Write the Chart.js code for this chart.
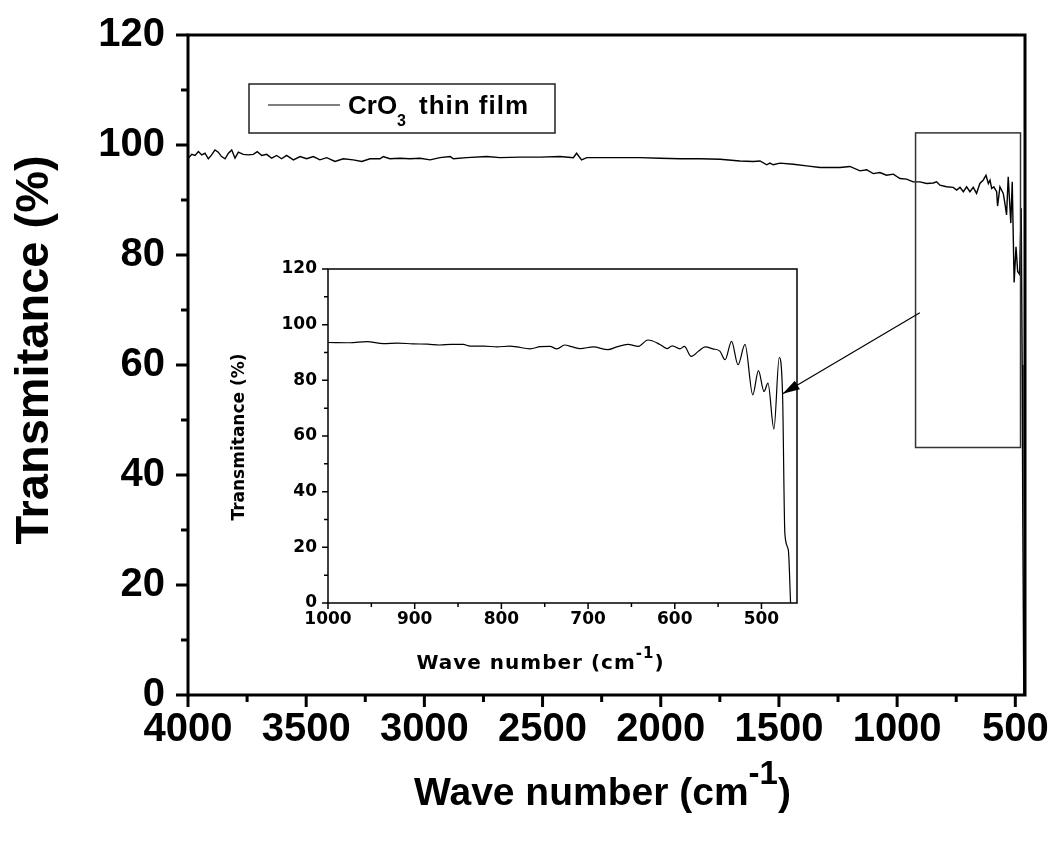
<!DOCTYPE html>
<html lang="en">
<head>
<meta charset="UTF-8">
<title>CrO3 thin film - FTIR transmittance</title>
<script src="https://cdn.jsdelivr.net/npm/chart.js"></script>
<style>
    html, body { margin: 0; padding: 0; background: #fff; }
    .wrap { position: relative; width: 1052px; height: 841px; }
    .wrap canvas { position: absolute; left: 0; top: 0; }
</style>
</head>
<body>
<div class="wrap">
    <canvas id="mainChart" width="1052" height="841"></canvas>
    <canvas id="insetChart" width="1052" height="841"></canvas>
</div>
<script>
// main spectrum, 4000 - 460 cm-1
const mainWave = [
    3999, 3984, 3970, 3956, 3942, 3928, 3914, 3900, 3886, 3872,
    3858, 3843, 3829, 3815, 3801, 3787, 3766, 3745, 3724, 3707,
    3688, 3667, 3646, 3625, 3604, 3583, 3554, 3526, 3498, 3470,
    3442, 3413, 3378, 3343, 3301, 3265, 3230, 3188, 3174, 3146,
    3103, 3061, 3018, 2976, 2934, 2891, 2877, 2821, 2736, 2680,
    2595, 2510, 2426, 2370, 2356, 2335, 2313, 2257, 2172, 2088,
    2003, 1919, 1834, 1749, 1665, 1608, 1580, 1552, 1538, 1524,
    1496, 1439, 1383, 1326, 1242, 1200, 1157, 1129, 1101, 1073,
    1045, 1016, 988, 960, 932, 904, 875, 847, 833, 819,
    791, 763, 748, 734, 720, 706, 692, 678, 664, 650,
    636, 624, 614, 607, 600, 591, 579, 575, 565, 551,
    544, 537, 530, 519, 513, 505, 497, 490, 482, 475,
    471, 468, 464
];
const mainT = [
    97.6, 98.3, 98.1, 98.8, 98.2, 98.5, 97.5, 98.2, 99.1, 98.7,
    97.9, 97.5, 98.5, 99.1, 97.6, 98.7, 98.3, 98.2, 98.3, 98.8,
    98.1, 98.3, 97.6, 98.1, 97.5, 98.1, 97.3, 97.9, 97.5, 97.9,
    97.3, 97.7, 97.0, 97.5, 97.3, 97.0, 97.5, 97.5, 97.9, 97.5,
    97.6, 97.5, 97.6, 97.3, 97.7, 97.9, 97.5, 97.7, 97.9, 97.7,
    97.8, 97.8, 97.9, 97.7, 98.5, 97.3, 97.7, 97.7, 97.7, 97.7,
    97.6, 97.5, 97.5, 97.4, 97.1, 97.0, 97.1, 96.4, 96.7, 96.4,
    96.7, 96.5, 96.2, 95.9, 95.9, 96.1, 95.3, 95.5, 94.8, 95.0,
    94.5, 94.7, 93.9, 93.8, 93.3, 93.3, 93.0, 93.1, 93.3, 92.7,
    92.4, 92.3, 91.8, 92.3, 91.5, 92.4, 91.5, 92.3, 91.2, 93.0,
    93.6, 94.5, 93.0, 93.6, 92.1, 92.4, 91.5, 88.9, 92.4, 91.2,
    89.4, 87.3, 94.2, 85.8, 93.3, 75.0, 81.5, 77.0, 76.5, 88.5,
    60.0, 30.0, 0.0
];

// inset: zoom on 1000 - 460 cm-1
const insetWave = [
    1000, 975, 955, 936, 920, 902, 885, 871, 858, 844,
    836, 820, 805, 790, 782, 767, 755, 744, 736, 727,
    718, 709, 694, 677, 667, 654, 642, 631, 617, 609,
    603, 594, 589, 581, 572, 565, 556, 548, 542, 534.5,
    527, 519, 510, 503.5, 497, 492.5, 485.6, 479.5, 475.6, 473,
    469, 466.4
];
const insetT = [
    93.6, 93.5, 93.9, 93.2, 93.4, 93.1, 93.0, 92.7, 92.9, 92.9,
    92.3, 92.3, 92.0, 92.3, 92.0, 91.3, 92.1, 92.2, 91.3, 92.7,
    92.0, 91.4, 92.0, 91.0, 92.0, 92.9, 92.2, 94.5, 92.9, 91.4,
    92.4, 91.3, 92.2, 88.6, 90.6, 92.0, 91.3, 90.5, 87.4, 94.0,
    85.6, 92.9, 74.8, 83.5, 76.0, 79.0, 62.5, 88.2, 74.2, 25.0,
    19.0, 0.0
];

const mainXTicks = [4000, 3500, 3000, 2500, 2000, 1500, 1000, 500];
const mainYTicks = [0, 20, 40, 60, 80, 100, 120];
const insetXTicks = [1000, 900, 800, 700, 600, 500];
const insetYTicks = [0, 20, 40, 60, 80, 100, 120];

const MAIN_FONT = "'Liberation Sans', Arial, sans-serif";
const INSET_FONT = "'DejaVu Sans', sans-serif";

// frame round the plot area + major/minor tick marks pointing outward
const framePlugin = {
    id: 'frame',
    afterDraw(chart, args, opts) {
        const { ctx, chartArea: a, scales: { x, y } } = chart;
        ctx.save();
        ctx.strokeStyle = '#000';
        ctx.lineWidth = opts.width;
        ctx.strokeRect(a.left, a.top, a.right - a.left, a.bottom - a.top);
        ctx.beginPath();
        const xs = x.ticks.map(t => t.value);
        const ys = y.ticks.map(t => t.value);
        xs.forEach((v, i) => {
            const px = x.getPixelForValue(v);
            ctx.moveTo(px, a.bottom); ctx.lineTo(px, a.bottom + opts.major);
            if (i < xs.length - 1) {
                const pm = x.getPixelForValue((v + xs[i + 1]) / 2);
                ctx.moveTo(pm, a.bottom); ctx.lineTo(pm, a.bottom + opts.minor);
            }
        });
        ys.forEach((v, i) => {
            const py = y.getPixelForValue(v);
            ctx.moveTo(a.left, py); ctx.lineTo(a.left - opts.major, py);
            if (i < ys.length - 1) {
                const pm = y.getPixelForValue((v + ys[i + 1]) / 2);
                ctx.moveTo(a.left, pm); ctx.lineTo(a.left - opts.minor, pm);
            }
        });
        ctx.stroke();
        ctx.restore();
    }
};

// text made of pieces so we can do super/subscripts
function drawPieces(ctx, pieces, x, baseY, center) {
    let total = 0;
    pieces.forEach(p => {
        ctx.font = 'bold ' + p.size + 'px ' + p.family;
        p.w = ctx.measureText(p.text).width;
        total += p.w;
    });
    let cx = center ? x - total / 2 : x;
    pieces.forEach(p => {
        ctx.font = 'bold ' + p.size + 'px ' + p.family;
        ctx.fillText(p.text, cx, baseY + (p.dy || 0));
        cx += p.w;
    });
}

// axis titles (x one has a superscript, so both are drawn here)
const titlesPlugin = {
    id: 'titles',
    afterDraw(chart, args, opts) {
        const { ctx, chartArea: a } = chart;
        ctx.save();
        ctx.fillStyle = '#000';
        if (opts.spacing) ctx.letterSpacing = opts.spacing + 'px';
        ctx.textBaseline = 'alphabetic';
        const s = opts.xSize, f = opts.family;
        drawPieces(ctx, [
            { text: 'Wave number (cm', size: s, family: f },
            { text: '-1', size: Math.round(s * opts.supScale), family: f, dy: -s * 0.53 },
            { text: ')', size: s, family: f }
        ], (a.left + a.right) / 2 + opts.xShift, a.bottom + opts.xOffset, true);
        ctx.letterSpacing = '0px';

        ctx.translate(a.left - opts.yOffset, (a.top + a.bottom) / 2 + opts.yShift);
        ctx.rotate(-Math.PI / 2);
        ctx.textAlign = 'center';
        ctx.textBaseline = 'middle';
        ctx.font = 'bold ' + opts.ySize + 'px ' + f;
        ctx.fillText('Transmitance (%)', 0, 0);
        ctx.restore();
    }
};

// legend box and the zoom rectangle on the main chart
const zoomBox = { from: 922, to: 478, top: 102.2, bottom: 45 };
const mainExtras = {
    id: 'mainExtras',
    afterDraw(chart) {
        const { ctx, chartArea: a, scales: { x, y } } = chart;
        ctx.save();
        // zoomed region
        ctx.strokeStyle = '#333';
        ctx.lineWidth = 1.5;
        const zx0 = x.getPixelForValue(zoomBox.from), zx1 = x.getPixelForValue(zoomBox.to);
        const zy0 = y.getPixelForValue(zoomBox.top), zy1 = y.getPixelForValue(zoomBox.bottom);
        ctx.strokeRect(zx0, zy0, zx1 - zx0, zy1 - zy0);

        // legend
        const lx = a.left + 61, ly = a.top + 49;
        ctx.strokeStyle = '#222';
        ctx.strokeRect(lx, ly, 306, 49);
        ctx.strokeStyle = '#000';
        ctx.lineWidth = 1.2;
        ctx.beginPath();
        ctx.moveTo(lx + 19, ly + 21); ctx.lineTo(lx + 91, ly + 21);
        ctx.stroke();
        ctx.fillStyle = '#000';
        drawPieces(ctx, [
            { text: 'CrO', size: 26, family: MAIN_FONT },
            { text: '3', size: 16, family: MAIN_FONT, dy: 12 }
        ], lx + 99, ly + 30, false);
        ctx.letterSpacing = '1px';
        ctx.font = 'bold 26px ' + MAIN_FONT;
        ctx.fillText('thin film', lx + 170, ly + 30);
        ctx.restore();
    }
};

// keep the plot area where the layout padding puts it
function noLabelPadding(s) {
    s.paddingTop = 0; s.paddingBottom = 0; s.paddingLeft = 0; s.paddingRight = 0;
}

const mainChart = new Chart(document.getElementById('mainChart'), {
    type: 'line',
    data: {
        datasets: [{
            label: 'CrO3 thin film',
            data: mainWave.map((w, i) => ({ x: w, y: mainT[i] })),
            borderColor: '#000',
            borderWidth: 1.4,
            pointRadius: 0,
            tension: 0
        }]
    },
    options: {
        responsive: false,
        animation: false,
        devicePixelRatio: 1,
        layout: { padding: { top: 35, right: 27, left: 0, bottom: 0 } },
        plugins: {
            legend: { display: false },
            tooltip: { enabled: false },
            frame: { width: 3, major: 12, minor: 7 },
            titles: { family: MAIN_FONT, xSize: 39, supScale: 0.85, xOffset: 110, xShift: -4, ySize: 47, yOffset: 153, yShift: -15 }
        },
        scales: {
            x: {
                type: 'linear',
                reverse: true,
                min: 459,
                max: 4000,
                afterBuildTicks: s => { s.ticks = mainXTicks.map(v => ({ value: v })); },
                afterFit: s => { s.height = 146; noLabelPadding(s); },
                grid: { display: false, drawTicks: false, tickLength: 0 },
                border: { display: false },
                ticks: {
                    color: '#000',
                    autoSkip: false,
                    maxRotation: 0,
                    padding: 11,
                    callback: v => String(v),
                    font: { family: MAIN_FONT, size: 40, weight: 'bold' }
                }
            },
            y: {
                min: 0,
                max: 120,
                afterBuildTicks: s => { s.ticks = mainYTicks.map(v => ({ value: v })); },
                afterFit: s => { s.width = 188; noLabelPadding(s); },
                grid: { display: false, drawTicks: false, tickLength: 0 },
                border: { display: false },
                ticks: {
                    color: '#000',
                    padding: 23,
                    callback: v => String(v),
                    font: { family: MAIN_FONT, size: 40, weight: 'bold' }
                }
            }
        }
    },
    plugins: [framePlugin, titlesPlugin, mainExtras]
});

// arrow from the zoom rectangle to the inset curve
const arrow = { fromX: 904, fromY: 69.5, toX: 475.5, toY: 75.2 };
const arrowPlugin = {
    id: 'arrow',
    afterDraw(chart) {
        const { ctx } = chart;
        const x0 = mainChart.scales.x.getPixelForValue(arrow.fromX);
        const y0 = mainChart.scales.y.getPixelForValue(arrow.fromY);
        const x1 = chart.scales.x.getPixelForValue(arrow.toX);
        const y1 = chart.scales.y.getPixelForValue(arrow.toY);
        const ang = Math.atan2(y1 - y0, x1 - x0);
        ctx.save();
        ctx.strokeStyle = '#000';
        ctx.fillStyle = '#000';
        ctx.lineWidth = 1.2;
        ctx.beginPath();
        ctx.moveTo(x0, y0); ctx.lineTo(x1, y1);
        ctx.stroke();
        ctx.beginPath();
        ctx.moveTo(x1, y1);
        ctx.lineTo(x1 - 17 * Math.cos(ang) + 5 * Math.sin(ang), y1 - 17 * Math.sin(ang) - 5 * Math.cos(ang));
        ctx.lineTo(x1 - 17 * Math.cos(ang) - 5 * Math.sin(ang), y1 - 17 * Math.sin(ang) + 5 * Math.cos(ang));
        ctx.closePath();
        ctx.fill();
        ctx.restore();
    }
};

const insetChart = new Chart(document.getElementById('insetChart'), {
    type: 'line',
    data: {
        datasets: [{
            data: insetWave.map((w, i) => ({ x: w, y: insetT[i] })),
            borderColor: '#000',
            borderWidth: 1.2,
            pointRadius: 0,
            cubicInterpolationMode: 'monotone'
        }]
    },
    options: {
        responsive: false,
        animation: false,
        devicePixelRatio: 1,
        layout: { padding: { top: 269, right: 255, left: 200, bottom: 0 } },
        plugins: {
            legend: { display: false },
            tooltip: { enabled: false },
            frame: { width: 1.5, major: 6, minor: 4 },
            titles: { family: INSET_FONT, xSize: 20, supScale: 0.75, xOffset: 66, xShift: -22, spacing: 1, ySize: 17, yOffset: 88, yShift: 1 }
        },
        scales: {
            x: {
                type: 'linear',
                reverse: true,
                min: 459,
                max: 1000,
                afterBuildTicks: s => { s.ticks = insetXTicks.map(v => ({ value: v })); },
                afterFit: s => { s.height = 238; noLabelPadding(s); },
                grid: { display: false, drawTicks: false, tickLength: 0 },
                border: { display: false },
                ticks: {
                    color: '#000',
                    autoSkip: false,
                    maxRotation: 0,
                    padding: 6,
                    callback: v => String(v),
                    font: { family: INSET_FONT, size: 17, weight: 'bold' }
                }
            },
            y: {
                min: 0,
                max: 120,
                afterBuildTicks: s => { s.ticks = insetYTicks.map(v => ({ value: v })); },
                afterFit: s => { s.width = 128; noLabelPadding(s); },
                grid: { display: false, drawTicks: false, tickLength: 0 },
                border: { display: false },
                ticks: {
                    color: '#000',
                    padding: 11,
                    callback: v => String(v),
                    font: { family: INSET_FONT, size: 17, weight: 'bold' }
                }
            }
        }
    },
    plugins: [framePlugin, titlesPlugin, arrowPlugin]
});
</script>
</body>
</html>
